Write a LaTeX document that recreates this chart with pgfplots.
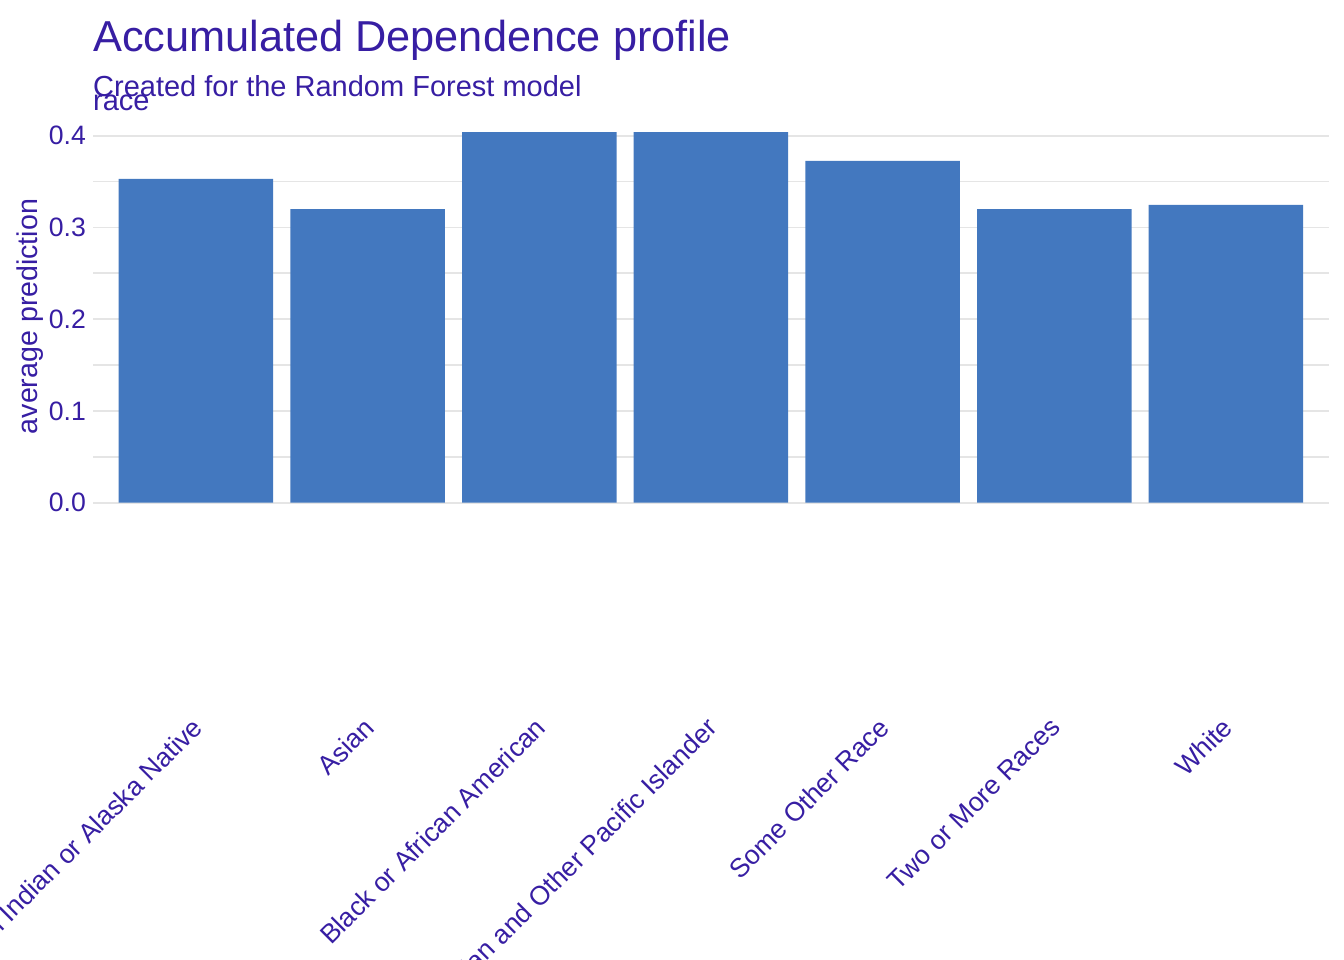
\documentclass[border=0pt]{standalone}
\usepackage{pgfplots}
\pgfplotsset{compat=1.18}
\usepackage{fontspec}
\setmainfont{Liberation Sans}
\definecolor{txt}{HTML}{371EA3}
\definecolor{barc}{HTML}{4378BF}
\definecolor{gridc}{HTML}{E5E5E5}
\begin{document}
\begin{tikzpicture}[x=1pt,y=1pt]
\useasboundingbox (0,0) rectangle (1344,960);
\clip (0,0) rectangle (1344,960);
\begin{axis}[
  at={(93pt,438.8pt)}, anchor=south west,
  width=1236pt, height=407.7pt, scale only axis,
  xmin=-0.6, xmax=6.6, ymin=-0.0202, ymax=0.4242,
  axis line style={draw=none},
  tick style={draw=none},
  major tick length=0pt, minor tick length=0pt,
  ytick={0,0.1,0.2,0.3,0.4},
  minor ytick={0.05,0.15,0.25,0.35},
  ymajorgrids, yminorgrids,
  major grid style={draw=gridc, line width=1.7pt},
  minor grid style={draw=gridc, line width=1.7pt},
  xtick={0,1,2,3,4,5,6},
  xticklabels={American Indian or Alaska Native, Asian, Black or African American, Native Hawaiian and Other Pacific Islander, Some Other Race, Two or More Races, White},
  xticklabel style={xshift=-5.5pt, yshift=-194.5pt, rotate=45, anchor=north east, inner sep=0pt, text=txt, font=\fontsize{26.6}{30}\selectfont},
  yticklabel style={anchor=east, inner sep=0pt, xshift=-7pt, text=txt, font=\fontsize{26.6}{30}\selectfont, /pgf/number format/.cd, fixed, fixed zerofill, precision=1, assume math mode=true},
  ybar, bar width=154.5pt,
]
\addplot[fill=barc, draw=none] coordinates {
  (0,0.353) (1,0.320) (2,0.404) (3,0.404) (4,0.3726) (5,0.320) (6,0.3246)
};
\end{axis}
\node[anchor=base west, inner sep=0pt, text=txt, font=\fontsize{43.3}{50}\selectfont] at (93,908.3) {Accumulated Dependence profile};
\node[anchor=base west, inner sep=0pt, text=txt, font=\fontsize{29}{34}\selectfont] at (93,863.5) {Created for the Random Forest model};
\node[anchor=base west, inner sep=0pt, text=txt, font=\fontsize{29}{34}\selectfont] at (93,849) {race};
\node[anchor=base, rotate=90, inner sep=0pt, text=txt, font=\fontsize{28.6}{34}\selectfont] at (37.5,643.5) {average prediction};
\end{tikzpicture}
\end{document}
